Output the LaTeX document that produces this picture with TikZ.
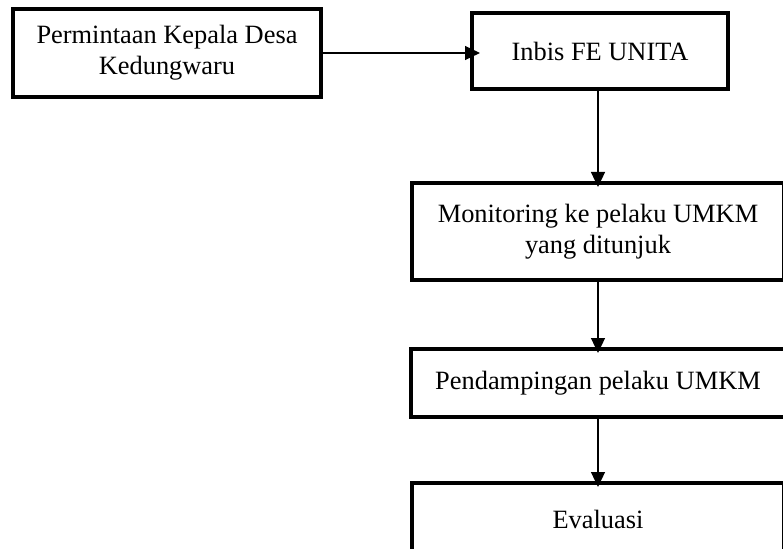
\documentclass[tikz,border=0pt]{standalone}
\usepackage{fontspec}
\setmainfont{Liberation Serif}
\usetikzlibrary{positioning, arrows.meta}
\definecolor{Dark}{HTML}{000000}
\definecolor{White}{HTML}{FFFFFF}
\tikzset{
    flowbox/.style={rectangle, draw=Dark, fill=White, line width=4.2bp, outer sep=0pt, inner sep=0pt, align=center, text=Dark, font=\fontsize{26.5}{31}\selectfont},
    arrow/.style={-{Triangle[length=15bp, width=14bp]}, line width=1.2bp, color=Dark, shorten >=-4bp},
}
\begin{document}
\begin{tikzpicture}[x=1bp, y=-1bp]
                
                % riquadro della pagina
                \clip (0,0) rectangle (783,549);
                
                % richiesta iniziale
                \node[flowbox, minimum width=308bp, minimum height=88bp] (richiesta) at (167, 53) {Permintaan Kepala Desa\\Kedungwaru};
                
                % incubatore
                \node[flowbox, minimum width=256bp, minimum height=76bp] (inbis) at (600, 51) {Inbis FE UNITA};
                
                % fasi successive
                \node[flowbox, minimum width=372bp, minimum height=97bp] (monitoring) at (598, 231.5) {Monitoring ke pelaku UMKM\\yang ditunjuk};
                \node[flowbox, minimum width=374bp, minimum height=68bp] (pendampingan) at (598, 383) {Pendampingan pelaku UMKM};
                \node[flowbox, minimum width=372bp, minimum height=72bp] (evaluasi) at (598, 519) {Evaluasi};
                
                % frecce
                \draw[arrow, shorten >=-8bp] (richiesta.east) -- (richiesta.east -| inbis.west);
                \draw[arrow] (inbis.south -| monitoring.north) -- (monitoring.north);
                \draw[arrow] (monitoring.south) -- (pendampingan.north);
                \draw[arrow] (pendampingan.south) -- (evaluasi.north);
                
            \end{tikzpicture}
\end{document}
